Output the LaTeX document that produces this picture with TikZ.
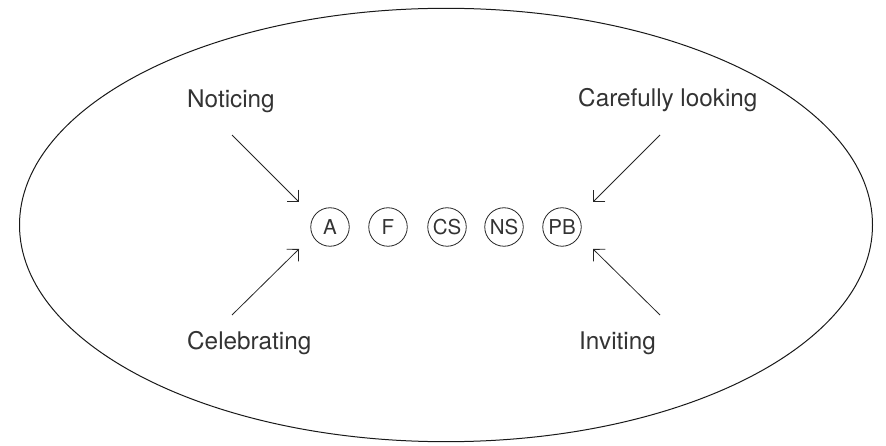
\documentclass[tikz,border=0pt]{standalone}
\usepackage{fontspec}
\setmainfont{TeX Gyre Heros}
\usetikzlibrary{arrows.meta}
\tikzset{
  lbl/.style={anchor=base west, inner sep=0pt, text=black!80, font=\fontsize{24.3}{28}\selectfont},
  circ/.style={circle, draw=black!85, line width=0.8pt, minimum size=38.5pt, inner sep=0pt, text=black!80, font=\fontsize{20.5}{23}\selectfont},
  arr/.style={draw=black!85, line width=0.8pt, -{Straight Barb[angle=90:12pt]}},
  outline/.style={draw=black!90, line width=1pt}
}
\begin{document}
\begin{tikzpicture}[x=1pt,y=-1pt]
\useasboundingbox (0,0) rectangle (886,446);
\draw[outline] (446,225) ellipse [x radius=426.5, y radius=216.7];
\node[lbl] (noticing) at (187,108) {Noticing};
\node[lbl] (careful) at (578,107) {Carefully looking};
\node[lbl] (celeb) at (187,349) {Celebrating};
\node[lbl] (inviting) at (579,349) {Inviting};
\node[circ] (A) at (330,227) {A};
\node[circ] (F) at (388,227) {F};
\node[circ] (CS) at (447,227) {CS};
\node[circ] (NS) at (504,227) {NS};
\node[circ] (PB) at (562,227) {PB};
\coordinate (n1) at (232,135);
\coordinate (n2) at (299,202);
\coordinate (c1) at (232,315);
\coordinate (c2) at (299,249);
\coordinate (k1) at (660,135);
\coordinate (k2) at (593,202);
\coordinate (i1) at (660,315);
\coordinate (i2) at (593,249);
\draw[arr] (n1) -- (n2);
\draw[arr] (c1) -- (c2);
\draw[arr] (k1) -- (k2);
\draw[arr] (i1) -- (i2);
\end{tikzpicture}
\end{document}
